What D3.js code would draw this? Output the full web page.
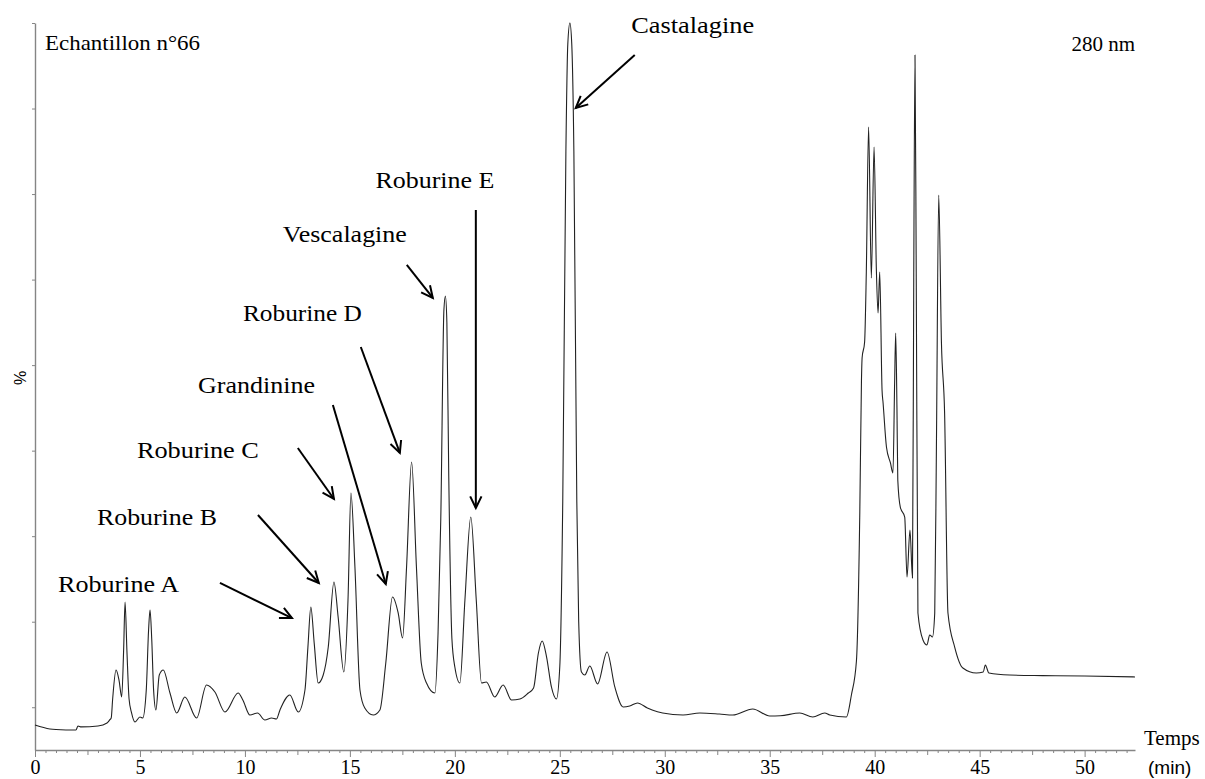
<!DOCTYPE html>
<html>
<head>
<meta charset="utf-8">
<script src="https://cdn.jsdelivr.net/npm/d3@7/dist/d3.min.js"></script>
<style>
  body { margin: 0; background: #fff; }
  svg { display: block; }
  text { font-family: "Liberation Serif", "Times New Roman", serif; fill: #000; }
</style>
</head>
<body>
<svg id="chart" width="1205" height="779"></svg>
<script>
// temps de rétention (min)
var times = [
  0.00, 0.71, 1.00, 1.95, 2.05, 2.20, 3.00, 3.43, 3.55, 3.63, 3.70, 3.86, 4.00, 4.13, 4.22, 4.29, 4.38, 4.48,
  4.60, 4.76, 5.00, 5.13, 5.30, 5.41, 5.48, 5.56, 5.65, 5.76, 5.92, 6.11, 6.43, 6.75, 7.14, 7.70, 8.17, 8.57,
  9.05, 9.68, 9.90, 10.24, 10.60, 10.95, 11.27, 11.50, 11.67, 12.14, 12.54, 12.86, 13.00, 13.14, 13.30, 13.49,
  13.73, 13.97, 14.24, 14.44, 14.71, 14.91, 15.05, 15.24, 15.48, 15.71, 16.11, 16.43, 16.71, 17.03, 17.30, 17.51,
  17.70, 17.94, 18.17, 18.40, 18.65, 19.05, 19.20, 19.33, 19.48, 19.55, 19.62, 19.71, 19.86, 20.00, 20.24, 20.48,
  20.76, 21.02, 21.27, 21.50, 21.90, 22.30, 22.70, 23.10, 23.50, 23.75, 23.98, 24.16, 24.37, 24.60, 24.84, 25.00,
  25.14, 25.29, 25.38, 25.48, 25.57, 25.67, 25.81, 25.90, 26.03, 26.19, 26.43, 26.80, 27.25, 27.62, 28.02, 28.33,
  28.70, 29.17, 29.40, 29.90, 30.87, 31.67, 32.60, 33.24, 34.19, 35.00, 35.50, 36.43, 37.05, 37.62, 37.86, 38.65,
  38.89, 39.13, 39.29, 39.37, 39.40, 39.52, 39.60, 39.71, 39.84, 39.97, 40.08, 40.16, 40.24, 40.35, 40.40, 40.56,
  40.75, 40.87, 40.95, 41.00, 41.06, 41.10, 41.22, 41.43, 41.54, 41.68, 41.80, 41.86, 41.92, 41.98, 42.06, 42.30,
  42.49, 42.62, 42.75, 42.86, 42.94, 43.05, 43.18, 43.33, 43.49, 43.81, 44.20, 44.84, 45.17, 45.27, 45.44, 46.43,
  48.00, 50.00, 52.40
];
// absorbance à 280 nm (%)
var intensity = [
  17.92, 17.46, 17.40, 17.34, 17.81, 17.70, 17.81, 18.16, 18.50, 18.74, 21.00, 24.35, 23.20, 21.20, 26.50, 32.30, 26.50, 21.00,
  19.33, 18.27, 18.86, 18.74, 22.00, 29.00, 31.37, 28.00, 22.00, 19.68, 23.77, 24.35, 21.66, 19.33, 21.20, 18.74, 22.60, 21.78,
  19.44, 21.66, 20.85, 19.09, 19.33, 18.51, 18.74, 18.62, 19.68, 21.43, 19.44, 22.02, 27.00, 31.72, 27.50, 22.83,
  23.77, 27.04, 34.64, 30.55, 24.12, 32.54, 45.05, 36.40, 22.02, 19.91, 19.09, 19.68, 25.17, 32.89, 31.02, 28.09,
  36.40, 48.67, 36.40, 25.17, 22.83, 21.66, 28.68, 42.00, 66.50, 68.08, 65.00, 47.00, 28.00, 24.70, 22.83, 32.54,
  42.24, 32.54, 22.83, 22.95, 21.20, 22.60, 20.85, 20.96, 21.66, 22.25, 26.34, 27.74, 25.87, 22.37, 20.96, 24.82,
  44.00, 85.00, 97.50, 100.0, 97.50, 85.00, 44.00, 30.00, 24.12, 23.77, 24.82, 22.72, 26.46, 22.37, 20.03, 20.14,
  20.50, 19.91, 19.68, 19.33, 19.09, 19.33, 19.21, 19.09, 19.80, 18.98, 19.00, 19.33, 18.86, 19.33, 19.09, 18.86,
  21.43, 25.41, 42.71, 58.26, 60.83, 62.70, 70.77, 87.84, 70.18, 85.50, 71.12, 66.09, 70.89, 57.09, 55.57, 50.43,
  48.56, 47.39, 58.00, 63.75, 55.00, 46.57, 43.41, 42.24, 35.23, 40.72, 35.11, 70.00, 96.26, 70.00, 31.02, 27.86,
  27.28, 28.45, 28.21, 31.02, 50.43, 79.89, 62.59, 54.40, 31.02, 27.04, 24.59, 24.00, 24.12, 24.94, 24.00, 23.77,
  23.70, 23.65, 23.54
];

var xTicks = [0, 5, 10, 15, 20, 25, 30, 35, 40, 45, 50];
var yTicks = [20, 30, 40, 50, 60, 70, 80, 90, 100];

// noms des pics, position du texte et de la flèche (min, %)
var labels   = ["Roburine A", "Roburine B", "Roburine C", "Grandinine", "Roburine D", "Vescalagine", "Roburine E", "Castalagine"];
var labelT   = [3.98, 5.81, 7.76, 10.55, 12.74, 14.76, 19.05, 31.33];
var labelP   = [33.47, 41.31, 49.14, 56.74, 65.16, 74.40, 80.71, 98.83];
var arrowT0  = [8.81, 10.62, 12.52, 14.19, 15.52, 17.71, 21.00, 28.57];
var arrowP0  = [34.53, 42.48, 50.31, 55.34, 62.12, 71.71, 78.14, 96.26];
var arrowT1  = [12.24, 13.52, 14.24, 16.71, 17.38, 18.95, 21.00, 25.76];
var arrowP1  = [30.43, 34.53, 44.35, 34.41, 49.73, 67.85, 43.29, 90.06];

var svg = d3.select("#chart");
var margin = { top: 23, right: 70, bottom: 29, left: 35 };
var width = +svg.attr("width");
var height = +svg.attr("height");

var x = d3.scaleLinear().domain([0, 52.4]).range([margin.left, width - margin.right]);
var y = d3.scaleLinear().domain([15, 100]).range([height - margin.bottom, margin.top]);

var axisColor = "#858585";

// graduations mineures (0.5 min) et intermédiaires (2.5 min)
var minor = d3.range(0, 52.4, 0.5).filter(function (d) { return d % 2.5 !== 0; });
var mid = d3.range(2.5, 52.4, 5);

svg.append("g")
  .attr("transform", "translate(0," + y(15) + ")")
  .call(d3.axisBottom(x).tickValues(minor).tickSize(3).tickSizeOuter(0).tickFormat(""))
  .call(function (g) { g.select(".domain").remove(); g.selectAll("line").attr("stroke", axisColor); });

svg.append("g")
  .attr("transform", "translate(0," + y(15) + ")")
  .call(d3.axisBottom(x).tickValues(mid).tickSize(5).tickSizeOuter(0).tickFormat(""))
  .call(function (g) { g.select(".domain").remove(); g.selectAll("line").attr("stroke", axisColor); });

var xAxis = svg.append("g")
  .attr("transform", "translate(0," + y(15) + ")")
  .call(d3.axisBottom(x).tickValues(xTicks).tickSize(7).tickSizeOuter(0).tickPadding(3));
xAxis.select(".domain").attr("stroke", axisColor).attr("stroke-width", 1.4);
xAxis.selectAll("line").attr("stroke", axisColor);
xAxis.selectAll("text")
  .style("font-family", "'Liberation Serif', serif")
  .style("font-size", "20px")
  .attr("fill", "#000");

var yAxis = svg.append("g")
  .attr("transform", "translate(" + x(0) + ",0)")
  .call(d3.axisLeft(y).tickValues(yTicks).tickSize(3).tickSizeOuter(0).tickFormat(""));
yAxis.select(".domain").attr("stroke", axisColor).attr("stroke-width", 1.4);
yAxis.selectAll("line").attr("stroke", axisColor);

// tracé du chromatogramme
var line = d3.line()
  .x(function (d, i) { return x(times[i]); })
  .y(function (d) { return y(d); })
  .curve(d3.curveMonotoneX);

svg.append("path")
  .datum(intensity)
  .attr("d", line)
  .attr("fill", "none")
  .attr("stroke", "#222")
  .attr("stroke-width", 1.1)
  .attr("stroke-linejoin", "round");

// flèches
var arrows = svg.append("g").attr("stroke", "#000").attr("stroke-width", 2).attr("fill", "none");
labels.forEach(function (name, i) {
  var x0 = x(arrowT0[i]), y0 = y(arrowP0[i]);
  var x1 = x(arrowT1[i]), y1 = y(arrowP1[i]);
  var a = Math.atan2(y1 - y0, x1 - x0);
  var head = 13, spread = 0.45;
  arrows.append("line").attr("x1", x0).attr("y1", y0).attr("x2", x1).attr("y2", y1);
  arrows.append("path")
    .attr("stroke-linejoin", "miter")
    .attr("d", "M" + (x1 - head * Math.cos(a - spread)) + "," + (y1 - head * Math.sin(a - spread)) +
      "L" + x1 + "," + y1 +
      "L" + (x1 - head * Math.cos(a + spread)) + "," + (y1 - head * Math.sin(a + spread)));
});

// noms des composés
var labelWidth = [121, 120, 122, 117, 119, 124, 119, 123];
svg.append("g")
  .selectAll("text")
  .data(labels)
  .enter()
  .append("text")
  .attr("x", function (d, i) { return x(labelT[i]); })
  .attr("y", function (d, i) { return y(labelP[i]); })
  .attr("text-anchor", "middle")
  .attr("textLength", function (d, i) { return labelWidth[i]; })
  .attr("lengthAdjust", "spacingAndGlyphs")
  .style("font-size", "23px")
  .text(function (d) { return d; });

svg.append("text")
  .attr("x", 45).attr("y", 50)
  .attr("textLength", 155).attr("lengthAdjust", "spacingAndGlyphs")
  .style("font-size", "22px")
  .text("Echantillon n°66");

svg.append("text")
  .attr("x", 1135).attr("y", 51)
  .attr("text-anchor", "end")
  .style("font-size", "21px")
  .text("280 nm");

svg.append("text")
  .attr("transform", "translate(26,378) rotate(-90)")
  .attr("text-anchor", "middle")
  .style("font-family", "'Liberation Sans', Arial, sans-serif")
  .style("font-size", "16px")
  .text("%");

svg.append("text")
  .attr("x", 1144).attr("y", 745)
  .style("font-size", "21px")
  .text("Temps");

svg.append("text")
  .attr("x", 1148).attr("y", 774)
  .style("font-family", "'Liberation Sans', Arial, sans-serif")
  .style("font-size", "19px")
  .text("(min)");
</script>
</body>
</html>
